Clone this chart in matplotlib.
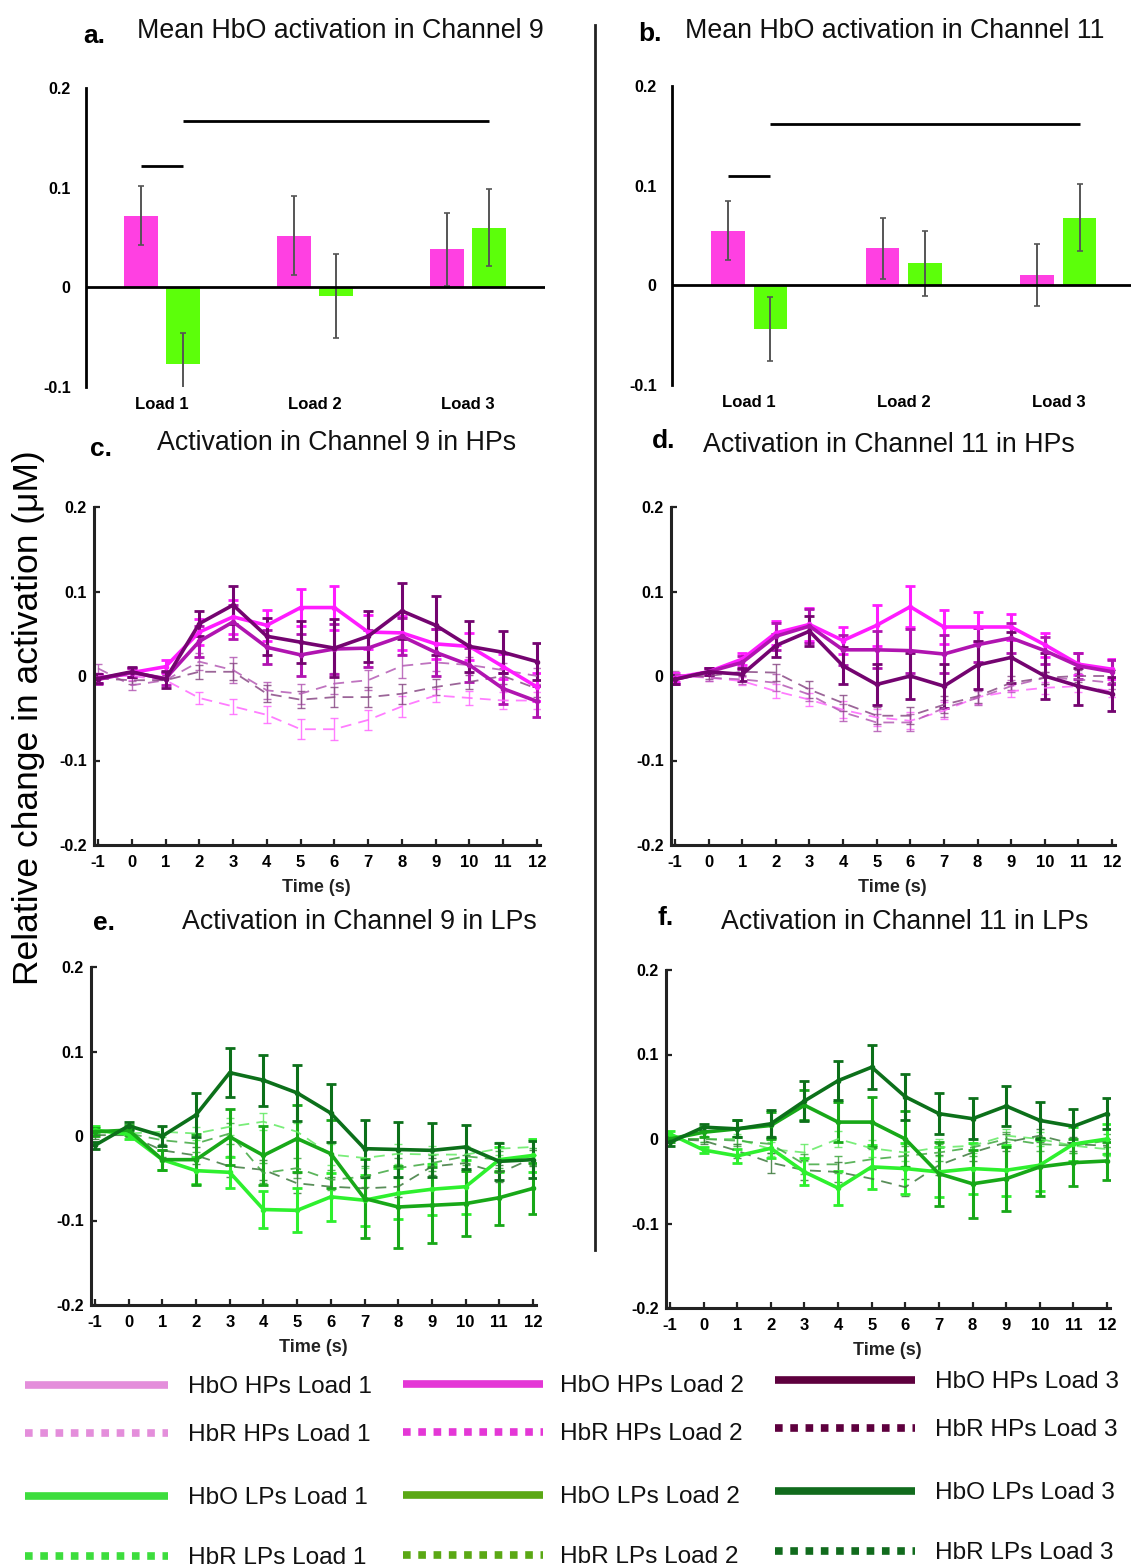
import numpy as np
import matplotlib
matplotlib.use("Agg")
import matplotlib.pyplot as plt

plt.rcParams['font.family'] = ['Liberation Sans', 'DejaVu Sans']

W, H = 1131, 1566
DPI = 100

# ------------------------------------------------------- bar panels (a, b)
loads = ["Load 1", "Load 2", "Load 3"]
ch9_hp = [0.072, 0.052, 0.038]
ch9_hp_err = [0.030, 0.040, 0.037]
ch9_lp = [-0.077, -0.009, 0.060]
ch9_lp_err = [0.031, 0.042, 0.039]
ch11_hp = [0.055, 0.037, 0.010]
ch11_hp_err = [0.030, 0.031, 0.031]
ch11_lp = [-0.044, 0.022, 0.068]
ch11_lp_err = [0.032, 0.033, 0.034]
# significance bars: (from bar, to bar, height); bar index = 2*load + (0 HP, 1 LP)
sig_ch9 = [(0, 1, 0.122), (1, 5, 0.167)]
sig_ch11 = [(0, 1, 0.110), (1, 5, 0.162)]

# ------------------------------------------------------- time courses (c-f)
time_s = np.arange(-1, 13)
time_labels = [str(t) for t in time_s]

c_hbo = [[-0.003, 0.004, 0.011, 0.052, 0.070, 0.060, 0.081, 0.081, 0.052, 0.051, 0.038, 0.035, 0.011, -0.013],
         [-0.004, 0.004, -0.003, 0.041, 0.064, 0.034, 0.025, 0.032, 0.033, 0.047, 0.028, 0.013, -0.015, -0.030],
         [-0.003, 0.005, -0.004, 0.062, 0.084, 0.047, 0.040, 0.033, 0.047, 0.077, 0.060, 0.035, 0.028, 0.017]]
c_hbo_err = [[0.005, 0.005, 0.008, 0.015, 0.020, 0.018, 0.022, 0.026, 0.020, 0.020, 0.018, 0.016, 0.015, 0.017],
             [0.005, 0.005, 0.008, 0.018, 0.020, 0.020, 0.025, 0.030, 0.022, 0.022, 0.028, 0.020, 0.018, 0.018],
             [0.005, 0.006, 0.010, 0.015, 0.022, 0.022, 0.025, 0.034, 0.030, 0.033, 0.035, 0.030, 0.025, 0.022]]
c_hbr = [[0.000, 0.000, -0.005, -0.026, -0.036, -0.046, -0.063, -0.063, -0.052, -0.036, -0.023, -0.026, -0.029, -0.029],
         [0.009, -0.011, -0.005, 0.017, 0.007, -0.017, -0.021, -0.009, -0.005, 0.012, 0.016, 0.013, 0.007, 0.000],
         [-0.003, -0.005, -0.005, 0.005, 0.005, -0.021, -0.028, -0.025, -0.025, -0.021, -0.013, -0.007, 0.000, -0.015]]
c_hbr_err = [[0.004, 0.005, 0.006, 0.007, 0.009, 0.010, 0.012, 0.013, 0.012, 0.012, 0.008, 0.008, 0.010, 0.010],
             [0.005, 0.005, 0.006, 0.010, 0.015, 0.010, 0.012, 0.012, 0.012, 0.014, 0.010, 0.010, 0.008, 0.010],
             [0.005, 0.005, 0.006, 0.008, 0.010, 0.010, 0.010, 0.012, 0.012, 0.012, 0.010, 0.008, 0.010, 0.010]]

d_hbo = [[-0.002, 0.005, 0.020, 0.051, 0.061, 0.042, 0.060, 0.082, 0.058, 0.058, 0.058, 0.037, 0.014, 0.008],
         [-0.004, 0.005, 0.016, 0.047, 0.059, 0.031, 0.031, 0.030, 0.026, 0.037, 0.045, 0.030, 0.012, 0.005],
         [-0.004, 0.005, 0.002, 0.036, 0.053, 0.012, -0.010, 0.000, -0.012, 0.013, 0.022, 0.000, -0.012, -0.021]]
d_hbo_err = [[0.005, 0.004, 0.007, 0.014, 0.020, 0.016, 0.024, 0.024, 0.020, 0.018, 0.015, 0.014, 0.013, 0.012],
             [0.005, 0.004, 0.008, 0.016, 0.020, 0.018, 0.022, 0.026, 0.022, 0.020, 0.018, 0.016, 0.015, 0.014],
             [0.005, 0.004, 0.008, 0.014, 0.018, 0.022, 0.024, 0.027, 0.026, 0.028, 0.030, 0.027, 0.022, 0.020]]
d_hbr = [[0.000, -0.002, -0.006, -0.018, -0.028, -0.040, -0.049, -0.053, -0.041, -0.025, -0.018, -0.014, -0.012, -0.018],
         [0.002, -0.002, -0.004, -0.008, -0.022, -0.043, -0.055, -0.055, -0.038, -0.026, -0.012, -0.002, -0.004, -0.008],
         [0.000, 0.000, 0.005, 0.004, -0.016, -0.032, -0.047, -0.047, -0.034, -0.024, -0.008, -0.002, 0.000, 0.000]]
d_hbr_err = [[0.004, 0.004, 0.005, 0.008, 0.008, 0.010, 0.010, 0.010, 0.010, 0.008, 0.007, 0.007, 0.007, 0.007],
             [0.004, 0.004, 0.005, 0.010, 0.008, 0.010, 0.010, 0.010, 0.010, 0.008, 0.007, 0.007, 0.007, 0.007],
             [0.004, 0.004, 0.005, 0.010, 0.010, 0.010, 0.010, 0.010, 0.010, 0.008, 0.008, 0.007, 0.007, 0.007]]

e_hbo = [[0.007, 0.002, -0.028, -0.041, -0.043, -0.087, -0.088, -0.072, -0.076, -0.068, -0.063, -0.060, -0.028, -0.023],
         [0.005, 0.007, -0.028, -0.028, -0.001, -0.023, -0.003, -0.021, -0.074, -0.084, -0.082, -0.080, -0.073, -0.062],
         [-0.011, 0.012, 0.000, 0.025, 0.075, 0.066, 0.051, 0.027, -0.015, -0.016, -0.017, -0.013, -0.030, -0.028]]
e_hbo_err = [[0.005, 0.006, 0.012, 0.016, 0.018, 0.022, 0.026, 0.028, 0.030, 0.030, 0.030, 0.032, 0.015, 0.020],
             [0.005, 0.006, 0.012, 0.030, 0.033, 0.035, 0.040, 0.040, 0.047, 0.049, 0.045, 0.038, 0.032, 0.030],
             [0.004, 0.005, 0.012, 0.026, 0.029, 0.030, 0.033, 0.034, 0.034, 0.032, 0.032, 0.026, 0.022, 0.022]]
e_hbr = [[0.005, 0.003, 0.005, 0.003, 0.011, 0.017, 0.005, -0.022, -0.026, -0.021, -0.022, -0.022, -0.015, -0.013],
         [0.005, 0.003, -0.005, -0.009, 0.003, -0.044, -0.038, -0.052, -0.048, -0.038, -0.032, -0.024, -0.028, -0.024],
         [0.001, 0.001, -0.017, -0.023, -0.036, -0.040, -0.056, -0.060, -0.062, -0.060, -0.036, -0.032, -0.044, -0.026]]
e_hbr_err = [[0.004, 0.004, 0.006, 0.008, 0.010, 0.010, 0.010, 0.012, 0.012, 0.012, 0.010, 0.010, 0.008, 0.010],
             [0.004, 0.004, 0.006, 0.010, 0.012, 0.012, 0.012, 0.012, 0.012, 0.012, 0.010, 0.010, 0.010, 0.010],
             [0.004, 0.004, 0.008, 0.010, 0.012, 0.012, 0.012, 0.012, 0.012, 0.012, 0.010, 0.010, 0.010, 0.010]]

f_hbo = [[0.006, -0.013, -0.020, -0.011, -0.039, -0.058, -0.033, -0.035, -0.039, -0.035, -0.037, -0.031, -0.006, 0.000],
         [0.000, 0.008, 0.012, 0.016, 0.040, 0.020, 0.020, 0.000, -0.041, -0.053, -0.047, -0.033, -0.028, -0.026],
         [-0.004, 0.014, 0.012, 0.018, 0.045, 0.069, 0.085, 0.050, 0.030, 0.024, 0.039, 0.022, 0.015, 0.030]]
f_hbo_err = [[0.004, 0.004, 0.008, 0.012, 0.016, 0.020, 0.026, 0.030, 0.030, 0.030, 0.030, 0.030, 0.020, 0.018],
             [0.004, 0.006, 0.010, 0.016, 0.018, 0.024, 0.030, 0.033, 0.038, 0.040, 0.038, 0.034, 0.028, 0.022],
             [0.004, 0.004, 0.010, 0.016, 0.024, 0.023, 0.026, 0.027, 0.024, 0.024, 0.024, 0.022, 0.020, 0.018]]
f_hbr = [[0.000, 0.000, 0.000, -0.012, -0.016, 0.000, -0.011, -0.016, -0.010, -0.008, 0.004, 0.000, -0.008, -0.012],
         [0.000, 0.000, -0.002, -0.006, -0.030, -0.030, -0.024, -0.020, -0.016, -0.010, 0.000, -0.006, -0.008, -0.002],
         [0.000, -0.002, -0.014, -0.028, -0.037, -0.039, -0.047, -0.057, -0.031, -0.016, -0.004, 0.004, -0.006, -0.008]]
f_hbr_err = [[0.004, 0.004, 0.006, 0.008, 0.010, 0.010, 0.010, 0.010, 0.010, 0.008, 0.008, 0.008, 0.008, 0.008],
             [0.004, 0.004, 0.006, 0.010, 0.012, 0.010, 0.012, 0.012, 0.010, 0.010, 0.008, 0.008, 0.008, 0.008],
             [0.004, 0.004, 0.008, 0.012, 0.012, 0.012, 0.012, 0.010, 0.012, 0.010, 0.010, 0.008, 0.008, 0.008]]

# ------------------------------------------------------- legend entries
leg_labels = [["HbO HPs Load 1", "HbO HPs Load 2", "HbO HPs Load 3"],
              ["HbR HPs Load 1", "HbR HPs Load 2", "HbR HPs Load 3"],
              ["HbO LPs Load 1", "HbO LPs Load 2", "HbO LPs Load 3"],
              ["HbR LPs Load 1", "HbR LPs Load 2", "HbR LPs Load 3"]]
leg_colors_hp = ["#e48edb", "#e437d6", "#5e003e"]
leg_colors_lp = ["#3ddd3d", "#5aa814", "#116b1d"]

# colours used inside the plots
BAR_HP, BAR_LP = "#ff40e2", "#5cff0a"
HP_SOLID = ["#ff1cff", "#b014b0", "#740470"]
HP_DASH = ["#ff66ff", "#b45ab4", "#8a4a86"]
LP_SOLID = ["#2ef02e", "#18a818", "#0c701a"]
LP_DASH = ["#62ea62", "#3fa83f", "#3c7a3c"]


def px_axes(fig, left, top, right, bottom):
    return fig.add_axes([left / W, 1 - bottom / H, (right - left) / W, (bottom - top) / H])


def ftext(fig, x, y, s, **kw):
    fig.text(x / W, 1 - y / H, s, **kw)


fig = plt.figure(figsize=(W / DPI, H / DPI), dpi=DPI)


def bar_panel(rect, xlim, hp, hp_err, lp, lp_err, sig):
    ax = px_axes(fig, *rect)
    x = np.arange(1, len(loads) + 1)
    off, bw = 0.137, 0.218
    ax.bar(x - off, hp, bw, color=BAR_HP, zorder=2)
    ax.bar(x + off, lp, bw, color=BAR_LP, zorder=2)
    ekw = dict(fmt="none", ecolor="#555555", elinewidth=1.4, capsize=2.5, capthick=1.2, zorder=3)
    ax.errorbar(x - off, hp, yerr=hp_err, **ekw)
    ax.errorbar(x + off, lp, yerr=lp_err, **ekw)
    centres = np.ravel(np.column_stack([x - off, x + off]))
    for i, j, h in sig:
        ax.plot([centres[i], centres[j]], [h, h], color="black", lw=2, solid_capstyle="butt")
    ax.axhline(0, color="black", lw=2, zorder=4)
    ax.set_xlim(*xlim)
    ax.set_ylim(-0.1, 0.2)
    for s in ["top", "right", "bottom"]:
        ax.spines[s].set_visible(False)
    ax.spines["left"].set_linewidth(2)
    ax.set_yticks([-0.1, 0, 0.1, 0.2], ["-0.1", "0", "0.1", "0.2"])
    ax.set_xticks(x, loads)
    ax.tick_params(length=0)
    ax.tick_params(axis="y", pad=11, labelsize=11.5)
    ax.tick_params(axis="x", pad=7, labelsize=12)
    for t in ax.get_xticklabels() + ax.get_yticklabels():
        t.set_fontweight("bold")
    ax.patch.set_alpha(0)
    return ax


def ts_panel(rect, hbo, hbo_err, hbr, hbr_err, solid_cols, dash_cols):
    ax = px_axes(fig, *rect)
    for y, e, c in zip(hbr, hbr_err, dash_cols):
        ax.errorbar(time_s, y, yerr=e, color=c, lw=1.3, ls=(0, (6, 4)), elinewidth=1.0,
                    capsize=3, capthick=1.0, alpha=0.85)
    for y, e, c in zip(hbo, hbo_err, solid_cols):
        ax.errorbar(time_s, y, yerr=e, color=c, lw=2.6, elinewidth=2.2, capsize=3.5,
                    capthick=2, marker="o", ms=3)
    ax.set_xlim(-1.13, 12.08)
    ax.set_ylim(-0.2, 0.2)
    for s in ["top", "right"]:
        ax.spines[s].set_visible(False)
    for s in ["left", "bottom"]:
        ax.spines[s].set_linewidth(2.2)
        ax.spines[s].set_color("#222222")
    ax.set_xticks(time_s, time_labels)
    ax.set_yticks([-0.2, -0.1, 0, 0.1, 0.2], ["-0.2", "-0.1", "0", "0.1", "0.2"])
    ax.tick_params(direction="in", length=4, width=1.6, color="#222222")
    ax.tick_params(axis="x", pad=7, labelsize=12)
    ax.tick_params(axis="y", pad=5, labelsize=11.5)
    for t in ax.get_xticklabels() + ax.get_yticklabels():
        t.set_fontweight("bold")
    ax.set_xlabel("Time (s)", fontsize=13, fontweight="bold", labelpad=7, color="#222222")
    ax.patch.set_alpha(0)
    return ax


bar_panel((86, 88, 545, 387), (0.503, 3.503), ch9_hp, ch9_hp_err, ch9_lp, ch9_lp_err, sig_ch9)
bar_panel((672, 86, 1131, 385), (0.50, 3.47), ch11_hp, ch11_hp_err, ch11_lp, ch11_lp_err, sig_ch11)

ts_panel((93.6, 507, 539.7, 845), c_hbo, c_hbo_err, c_hbr, c_hbr_err, HP_SOLID, HP_DASH)
ts_panel((670.6, 507, 1114.7, 845), d_hbo, d_hbo_err, d_hbr, d_hbr_err, HP_SOLID, HP_DASH)
ts_panel((90.6, 967, 535.7, 1305), e_hbo, e_hbo_err, e_hbr, e_hbr_err, LP_SOLID, LP_DASH)
ts_panel((665.6, 970, 1109.7, 1308), f_hbo, f_hbo_err, f_hbr, f_hbr_err, LP_SOLID, LP_DASH)

# panel letters and titles
titles = [("a.", 83, 36, "Mean HbO activation in Channel 9", 137, 31),
          ("b.", 638, 34, "Mean HbO activation in Channel 11", 685, 31),
          ("c.", 90, 449, "Activation in Channel 9 in HPs", 157, 443),
          ("d.", 652, 441, "Activation in Channel 11 in HPs", 703, 445),
          ("e.", 93, 923, "Activation in Channel 9 in LPs", 182, 922),
          ("f.", 657, 918, "Activation in Channel 11 in LPs", 721, 922)]
for letter, lx, ly, title, tx, ty in titles:
    ftext(fig, lx, ly, letter, fontsize=19, fontweight="bold", va="center", ha="left")
    ftext(fig, tx, ty, title, fontsize=19.3, va="center", ha="left", color="#111111")

ftext(fig, 29, 718, "Relative change in activation (\u03bcM)", fontsize=25.5,
      rotation=90, ha="center", va="center")

# overlay in pixel coordinates for divider and legend
ov = fig.add_axes([0, 0, 1, 1], zorder=-1)
ov.set_xlim(0, W)
ov.set_ylim(H, 0)
ov.axis("off")
ov.plot([595, 595], [25, 1250], color="#222222", lw=2)

row_y = [1383, 1431, 1494, 1554]
col_line = [(25, 168), (403, 543), (775, 915)]
col_text = [188, 560, 935]
col_dy = [2, 1, -3]
for r, labels in enumerate(leg_labels):
    cols = leg_colors_hp if r < 2 else leg_colors_lp
    dotted = r in (1, 3)
    for k, lab in enumerate(labels):
        y = row_y[r] + col_dy[k]
        x0, x1 = col_line[k]
        if dotted:
            ov.plot([x0, x1], [y, y], color=cols[k], lw=5.5, ls=(0, (1, 1)),
                    dash_capstyle="butt")
        else:
            ov.plot([x0, x1], [y, y], color=cols[k], lw=5.5, solid_capstyle="butt")
        ov.text(col_text[k], y + 2, lab, fontsize=17.6, va="center", ha="left", color="#111111")

fig.savefig("out.png", dpi=DPI)
